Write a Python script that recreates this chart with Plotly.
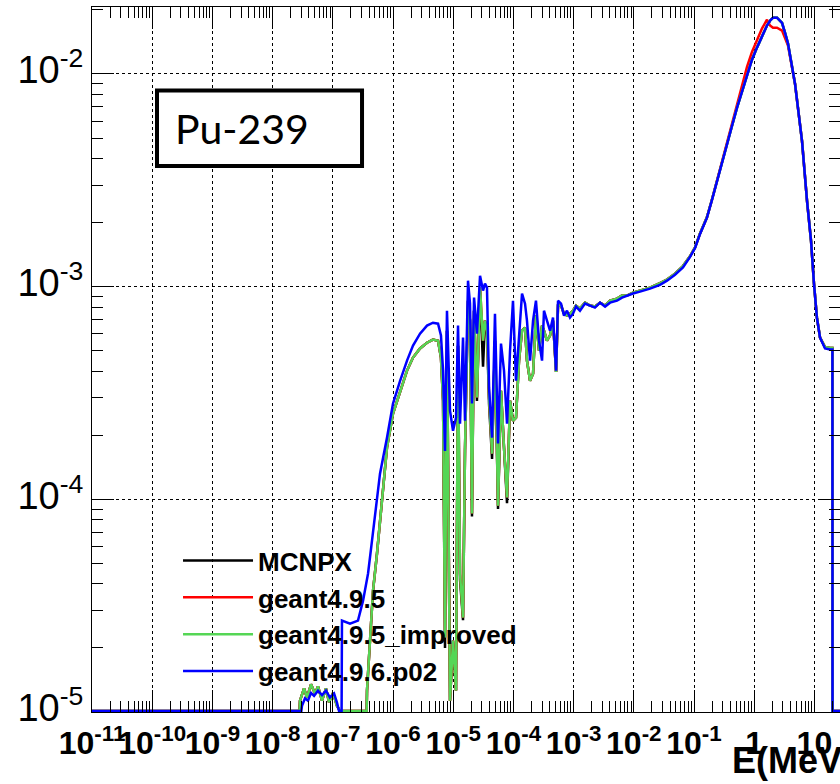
import plotly.graph_objects as go

FLOOR = 1.01e-5  # empty bins drawn at the bottom of the log axis

# ---------------- energy grids (MeV) ----------------
E_blue_low = [1e-11, 3.0e-8, 3.08e-8, 3.45e-8, 3.87e-8, 4.35e-8, 4.88e-8, 5.67e-8, 6.62e-8, 7.71e-8, 8.97e-8,
              1.05e-7, 1.17e-7, 1.27e-7, 1.40e-7, 1.42e-7, 1.93e-7, 2.62e-7, 3.18e-7, 3.85e-7, 4.48e-7, 5.22e-7,
              6.08e-7, 7.94e-7, 1.0e-6, 1.31e-6, 1.71e-6, 2.15e-6, 2.81e-6, 3.67e-6, 4.61e-6, 5.60e-6, 6.26e-6]
E_old_low = [1e-11, 2.8e-8, 2.85e-8, 3.33e-8, 3.72e-8, 4.35e-8, 5.06e-8, 5.67e-8, 6.62e-8, 7.71e-8, 8.65e-8,
             1.01e-7, 1.17e-7, 1.32e-7, 3.65e-7, 3.70e-7, 4.15e-7, 4.66e-7, 5.42e-7, 6.56e-7, 7.94e-7, 1.0e-6,
             1.31e-6, 1.71e-6, 2.15e-6, 2.81e-6, 3.67e-6, 4.61e-6, 5.60e-6, 6.26e-6]
E_res = [6.78e-6, 7.31e-6, 7.88e-6, 8.85e-6, 9.93e-6, 1.114e-5, 1.202e-5, 1.297e-5, 1.456e-5, 1.57e-5,
         1.762e-5, 1.90e-5, 2.05e-5, 2.22e-5, 2.48e-5, 2.79e-5, 3.13e-5, 3.37e-5, 3.64e-5, 3.94e-5,
         4.42e-5, 4.94e-5, 5.55e-5, 6.22e-5, 6.98e-5, 7.83e-5, 8.79e-5, 9.84e-5, 1.104e-4, 1.239e-4,
         1.39e-4, 1.56e-4, 1.68e-4, 1.89e-4, 2.12e-4, 2.37e-4, 2.66e-4, 2.99e-4, 3.22e-4, 3.61e-4,
         4.06e-4, 4.55e-4, 5.11e-4, 5.51e-4, 6.18e-4, 6.93e-4, 7.76e-4, 8.71e-4, 9.77e-4]
E_high = [1.096e-3, 1.276e-3, 1.545e-3, 1.87e-3, 2.26e-3, 2.75e-3, 3.33e-3, 4.03e-3, 5.26e-3, 6.37e-3,
          7.71e-3, 9.71e-3, 1.268e-2, 1.86e-2, 2.72e-2, 3.56e-2, 4.83e-2, 6.56e-2, 8.59e-2, 0.104,
          0.126, 0.164, 0.199, 0.241, 0.292, 0.353, 0.428, 0.518, 0.627, 0.759,
          0.918, 1.11, 1.35, 1.63, 1.83, 2.05, 2.39, 2.90, 3.25, 3.64,
          4.76, 6.22, 7.53, 8.79, 9.84, 11.0, 12.4, 15.0, 18.2, 19.9, 20.0, 30.0]

# ---------------- flux per lethargy ----------------
blue_low = [FLOOR, FLOOR, 1.07e-5, 1.16e-5, 1.13e-5, 1.23e-5, 1.19e-5, 1.26e-5, 1.20e-5, 1.26e-5, 1.17e-5,
            1.22e-5, 1.11e-5, FLOOR, FLOOR, 2.69e-5, 2.60e-5, 2.69e-5, 3.34e-5, 4.48e-5, 6.39e-5, 9.33e-5,
            1.32e-4, 1.95e-4, 2.82e-4, 3.61e-4, 4.49e-4, 5.28e-4, 6.01e-4, 6.56e-4, 6.77e-4, 6.70e-4, 5.89e-4]
blue_res = [4.03e-4, 1.69e-4, 7.71e-4, 2.61e-4, 2.10e-4, 2.42e-4, 6.56e-4, 2.27e-4, 5.76e-4, 2.34e-4,
            1.067e-3, 8.32e-4, 2.82e-4, 8.88e-4, 6.01e-4, 1.126e-3, 9.58e-4, 1.033e-3, 9.89e-4, 3.35e-4,
            1.95e-4, 7.46e-4, 1.83e-4, 5.40e-4, 4.03e-4, 2.27e-4, 5.0e-4, 8.59e-4, 3.61e-4, 6.01e-4,
            9.28e-4, 8.32e-4, 6.92e-4, 4.49e-4, 6.92e-4, 8.59e-4, 5.57e-4, 4.49e-4, 7.71e-4, 6.92e-4,
            6.21e-4, 7.15e-4, 4.03e-4, 8.59e-4, 8.32e-4, 7.31e-4, 7.71e-4, 7.15e-4, 7.46e-4]
blue_high = [8.06e-4, 7.71e-4, 8.32e-4, 8.15e-4, 7.97e-4, 8.41e-4, 8.06e-4, 8.41e-4, 8.59e-4, 8.88e-4,
             9.08e-4, 9.28e-4, 9.48e-4, 9.79e-4, 1.02e-3, 1.067e-3, 1.137e-3, 1.23e-3, 1.38e-3, 1.52e-3,
             1.77e-3, 2.11e-3, 2.56e-3, 3.15e-3, 3.87e-3, 4.70e-3, 5.71e-3, 6.95e-3, 8.34e-3, 1.0e-2,
             1.167e-2, 1.33e-2, 1.51e-2, 1.69e-2, 1.78e-2, 1.84e-2, 1.84e-2, 1.74e-2, 1.56e-2, 1.39e-2,
             9.0e-3, 4.85e-3, 2.54e-3, 1.64e-3, 1.033e-3, 7.15e-4, 5.76e-4, 5.12e-4, 5.06e-4, 5.06e-4,
             FLOOR, FLOOR]

green_low = [FLOOR, FLOOR, 1.13e-5, 1.29e-5, 1.17e-5, 1.35e-5, 1.22e-5, 1.32e-5, 1.13e-5, 1.29e-5, 1.11e-5,
             1.23e-5, 1.07e-5, FLOOR, FLOOR, 1.26e-5, 2.17e-5, 3.72e-5, 5.55e-5, 9.86e-5, 1.75e-4, 2.53e-4,
             3.24e-4, 4.03e-4, 4.64e-4, 5.12e-4, 5.45e-4, 5.64e-4, 5.57e-4, 4.64e-4]
green_res = [2.91e-4, 2.24e-5, 6.21e-4, 1.13e-5, 2.17e-5, 1.26e-5, 5.28e-4, 4.48e-5, 2.78e-5, 1.69e-4,
             8.59e-4, 6.92e-4, 8.57e-5, 7.71e-4, 3.01e-4, 9.89e-4, 5.57e-4, 6.92e-4, 6.21e-4, 3.01e-4,
             1.64e-4, 5.57e-4, 9.33e-5, 3.24e-4, 1.75e-4, 1.02e-4, 2.91e-4, 2.34e-4, 2.42e-4, 4.49e-4,
             6.21e-4, 6.41e-4, 4.49e-4, 3.61e-4, 3.90e-4, 7.31e-4, 5.0e-4, 6.56e-4, 6.21e-4, 5.57e-4,
             5.89e-4, 6.92e-4, 3.97e-4, 8.15e-4, 8.15e-4, 7.46e-4, 7.31e-4, 7.46e-4, 7.71e-4]
green_high = [8.15e-4, 7.88e-4, 8.41e-4, 8.15e-4, 8.06e-4, 8.41e-4, 8.15e-4, 8.59e-4, 8.78e-4, 9.08e-4,
              9.08e-4, 9.38e-4, 9.58e-4, 9.9e-4, 1.04e-3, 1.08e-3, 1.15e-3, 1.25e-3, 1.39e-3, 1.53e-3,
              1.78e-3, 2.12e-3, 2.57e-3, 3.16e-3, 3.87e-3, 4.70e-3, 5.71e-3, 6.95e-3, 8.34e-3, 1.0e-2,
              1.167e-2, 1.33e-2, 1.51e-2, 1.69e-2, 1.78e-2, 1.84e-2, 1.84e-2, 1.74e-2, 1.56e-2, 1.39e-2,
              9.0e-3, 4.85e-3, 2.54e-3, 1.64e-3, 1.033e-3, 7.15e-4, 5.76e-4, 5.2e-4, 5.15e-4, 5.15e-4,
              FLOOR, FLOOR]

red_high = [8.15e-4, 7.88e-4, 8.41e-4, 8.15e-4, 8.06e-4, 8.41e-4, 8.15e-4, 8.59e-4, 8.78e-4, 9.08e-4,
            9.08e-4, 9.38e-4, 9.58e-4, 9.9e-4, 1.04e-3, 1.08e-3, 1.15e-3, 1.25e-3, 1.39e-3, 1.53e-3,
            1.78e-3, 2.12e-3, 2.57e-3, 3.16e-3, 3.95e-3, 4.80e-3, 5.9e-3, 7.2e-3, 8.9e-3, 1.08e-2,
            1.27e-2, 1.45e-2, 1.64e-2, 1.80e-2, 1.69e-2, 1.65e-2, 1.65e-2, 1.60e-2, 1.48e-2, 1.36e-2,
            9.0e-3, 4.85e-3, 2.54e-3, 1.64e-3, 1.033e-3, 7.15e-4, 5.76e-4, 5.2e-4, 5.15e-4, 5.15e-4,
            FLOOR, FLOOR]

black_res = [2.91e-4, 2.0e-5, 6.21e-4, 1.13e-5, 2.17e-5, 1.26e-5, 5.28e-4, 4.2e-5, 2.7e-5, 1.69e-4,
             8.59e-4, 6.92e-4, 8.3e-5, 7.71e-4, 2.9e-4, 9.89e-4, 4.2e-4, 6.92e-4, 6.21e-4, 2.8e-4,
             1.55e-4, 5.57e-4, 9.0e-5, 3.24e-4, 1.75e-4, 9.6e-5, 2.91e-4, 2.34e-4, 2.42e-4, 4.49e-4,
             6.21e-4, 6.41e-4, 4.49e-4, 3.61e-4, 3.90e-4, 7.31e-4, 5.0e-4, 6.56e-4, 6.21e-4, 5.57e-4,
             5.89e-4, 6.92e-4, 3.97e-4, 8.15e-4, 8.15e-4, 7.46e-4, 7.31e-4, 7.46e-4, 7.71e-4]

series_names = ["MCNPX", "geant4.9.5", "geant4.9.5_improved", "geant4.9.6.p02"]
series_colors = ["#000000", "#ff0000", "#55d655", "#0000ff"]

E_old = E_old_low + E_res + E_high
E_new = E_blue_low + E_res + E_high
series_x = [E_old, E_old, E_old, E_new]
series_y = [green_low + black_res + green_high,
            green_low + green_res + red_high,
            green_low + green_res + green_high,
            blue_low + blue_res + blue_high]

x_tick_vals = [1e-11, 1e-10, 1e-9, 1e-8, 1e-7, 1e-6, 1e-5, 1e-4, 1e-3, 1e-2, 1e-1, 1, 10]
x_tick_text = ["10<sup>-11</sup>", "10<sup>-10</sup>", "10<sup>-9</sup>", "10<sup>-8</sup>",
               "10<sup>-7</sup>", "10<sup>-6</sup>", "10<sup>-5</sup>", "10<sup>-4</sup>",
               "10<sup>-3</sup>", "10<sup>-2</sup>", "10<sup>-1</sup>", "1", "10"]
y_tick_vals = [1e-5, 1e-4, 1e-3, 1e-2]
y_tick_text = ["10<sup>-5</sup>", "10<sup>-4</sup>", "10<sup>-3</sup>", "10<sup>-2</sup>"]

fig = go.Figure()
for name, color, xs, ys in zip(series_names, series_colors, series_x, series_y):
    fig.add_trace(go.Scatter(x=xs, y=ys, name=name, mode="lines", line_shape="linear",
                             line=dict(color=color, width=2.5)))

W, H = 840, 784
ML, MR, MT, MB = 92, 0, 7, 72

axis_common = dict(
    type="log", showline=True, linecolor="black", linewidth=1, mirror="ticks",
    ticks="inside", ticklen=22, tickcolor="black", tickwidth=1,
    showgrid=True, gridcolor="black", griddash="dot", gridwidth=1,
    zeroline=False, automargin=False, tickmode="array",
    minor=dict(ticks="inside", ticklen=11, tickcolor="black", tickwidth=1, dtick="D1", showgrid=False),
)

fig.update_xaxes(**axis_common, range=[-11, 1.425], tickvals=x_tick_vals, ticktext=x_tick_text,
                 tickangle=0, ticklabelstandoff=3,
                 tickfont=dict(family="Liberation Sans", size=32, color="black", weight="bold"))
fig.update_yaxes(**axis_common, range=[-5, -1.685], tickvals=y_tick_vals, ticktext=y_tick_text,
                 ticklabelshift=-4,
                 tickfont=dict(family="Liberation Sans", size=38, color="black"))

fig.add_shape(type="rect", xref="paper", yref="paper", x0=0.0869, x1=0.361, y0=0.7745, y1=0.8816,
              line=dict(color="black", width=4), fillcolor="white", layer="above")
fig.add_annotation(text="Pu-239", xref="paper", yref="paper", x=0.108, y=0.828, xanchor="left",
                   yanchor="middle", showarrow=False,
                   font=dict(family="Lato", size=41, color="black"))
fig.add_annotation(text="E(MeV)", xref="paper", yref="paper", x=0.853, y=-0.0695, xanchor="left",
                   yanchor="middle", showarrow=False,
                   font=dict(family="Liberation Sans", size=36, color="black", weight="bold"))

fig.update_layout(
    width=W, height=H, margin=dict(l=ML, r=MR, t=MT, b=MB),
    paper_bgcolor="white", plot_bgcolor="white",
    showlegend=True,
    legend=dict(x=0.115, y=0.248, xanchor="left", yanchor="top", bgcolor="rgba(0,0,0,0)",
                itemwidth=70, tracegroupgap=0,
                font=dict(family="Liberation Sans", size=26, color="black", weight="bold")),
)

fig.write_html("out.html")
